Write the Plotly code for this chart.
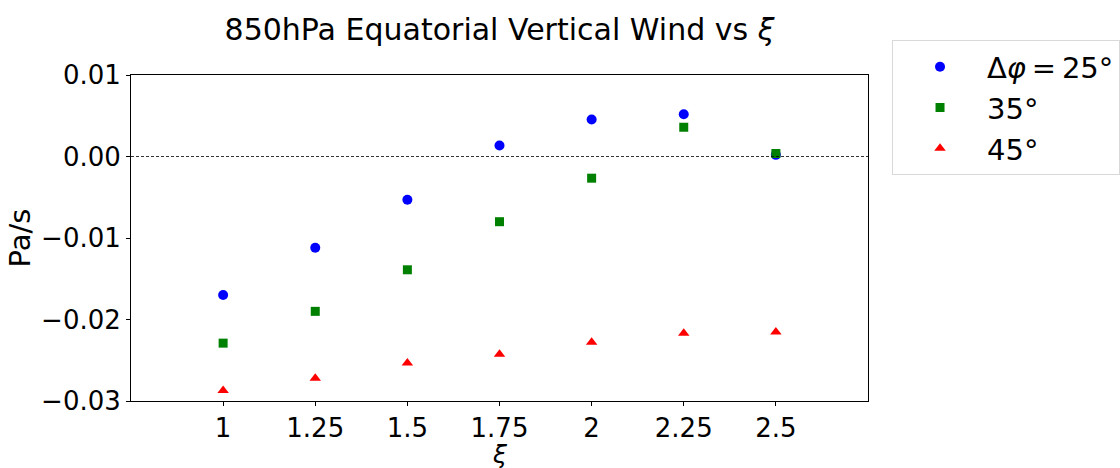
import plotly.graph_objects as go

xi = [1, 1.25, 1.5, 1.75, 2, 2.25, 2.5]
w25 = [-0.0170, -0.0112, -0.0053, 0.00135, 0.00453, 0.00518, 0.0002]
w35 = [-0.0229, -0.0190, -0.0139, -0.0080, -0.00266, 0.00359, 0.00037]
w45 = [-0.0287, -0.0272, -0.02535, -0.02425, -0.02278, -0.02168, -0.02152]

names = ["Δ<i>φ</i>\u2009=\u200925°", "35°", "45°"]
colors = ["#0000ff", "#008000", "#ff0000"]
symbols = ["circle", "square", "triangle-up"]
sizes = [10, 9, 10]

xtick_vals = [1, 1.25, 1.5, 1.75, 2, 2.25, 2.5]
xtick_text = ["1", "1.25", "1.5", "1.75", "2", "2.25", "2.5"]
ytick_vals = [0.01, 0.0, -0.01, -0.02, -0.03]
ytick_text = ["0.01", "0.00", "−0.01", "−0.02", "−0.03"]

FONT = "DejaVu Sans"

fig = go.Figure()
for ys, nm, c, s, sz in zip([w25, w35, w45], names, colors, symbols, sizes):
    fig.add_trace(go.Scatter(x=xi, y=ys, mode="markers", name=nm,
                             marker=dict(color=c, symbol=s, size=sz, line=dict(width=0))))

fig.add_hline(y=0, line=dict(color="black", width=0.8, dash="3px,2px"))

# x-axis title as annotation so it can sit exactly where the reference has it
fig.add_annotation(text="<i>ξ</i>", xref="paper", yref="paper", x=0.5, y=0,
                   xanchor="center", yanchor="top", yshift=-37, showarrow=False,
                   font=dict(size=25, family=FONT, color="black"))

fig.update_layout(
    width=1120, height=468,
    margin=dict(l=131, r=252, t=75, b=67, autoexpand=False),
    paper_bgcolor="white", plot_bgcolor="white",
    font=dict(family=FONT, color="black", size=26),
    title=dict(text="850hPa Equatorial Vertical Wind vs <i>ξ</i>", x=(131 + 868) / 2 / 1120,
               xanchor="center", y=1 - 29 / 468, yanchor="middle",
               font=dict(size=30, family=FONT)),
    showlegend=True,
    legend=dict(x=1.0326, y=1.106, xanchor="left", yanchor="top",
                bordercolor="#d9d9d9", borderwidth=1, bgcolor="white",
                font=dict(size=29, family=FONT), itemwidth=84,
                tracegroupgap=0),
)
fig.update_xaxes(range=[0.75, 2.75], tickvals=xtick_vals, ticktext=xtick_text,
                 showgrid=False, zeroline=False, showline=True, linecolor="black",
                 linewidth=1, mirror=True, ticks="outside", ticklen=4, tickcolor="black",
                 tickfont=dict(size=26), automargin=False)
fig.update_yaxes(range=[-0.03, 0.01], tickvals=ytick_vals, ticktext=ytick_text,
                 showgrid=False, zeroline=False, showline=True, linecolor="black",
                 linewidth=1, mirror=True, ticks="outside", ticklen=4, tickcolor="black",
                 tickfont=dict(size=26), automargin=False,
                 title=dict(text="Pa/s", font=dict(size=29), standoff=1))

fig.write_html("out.html")
